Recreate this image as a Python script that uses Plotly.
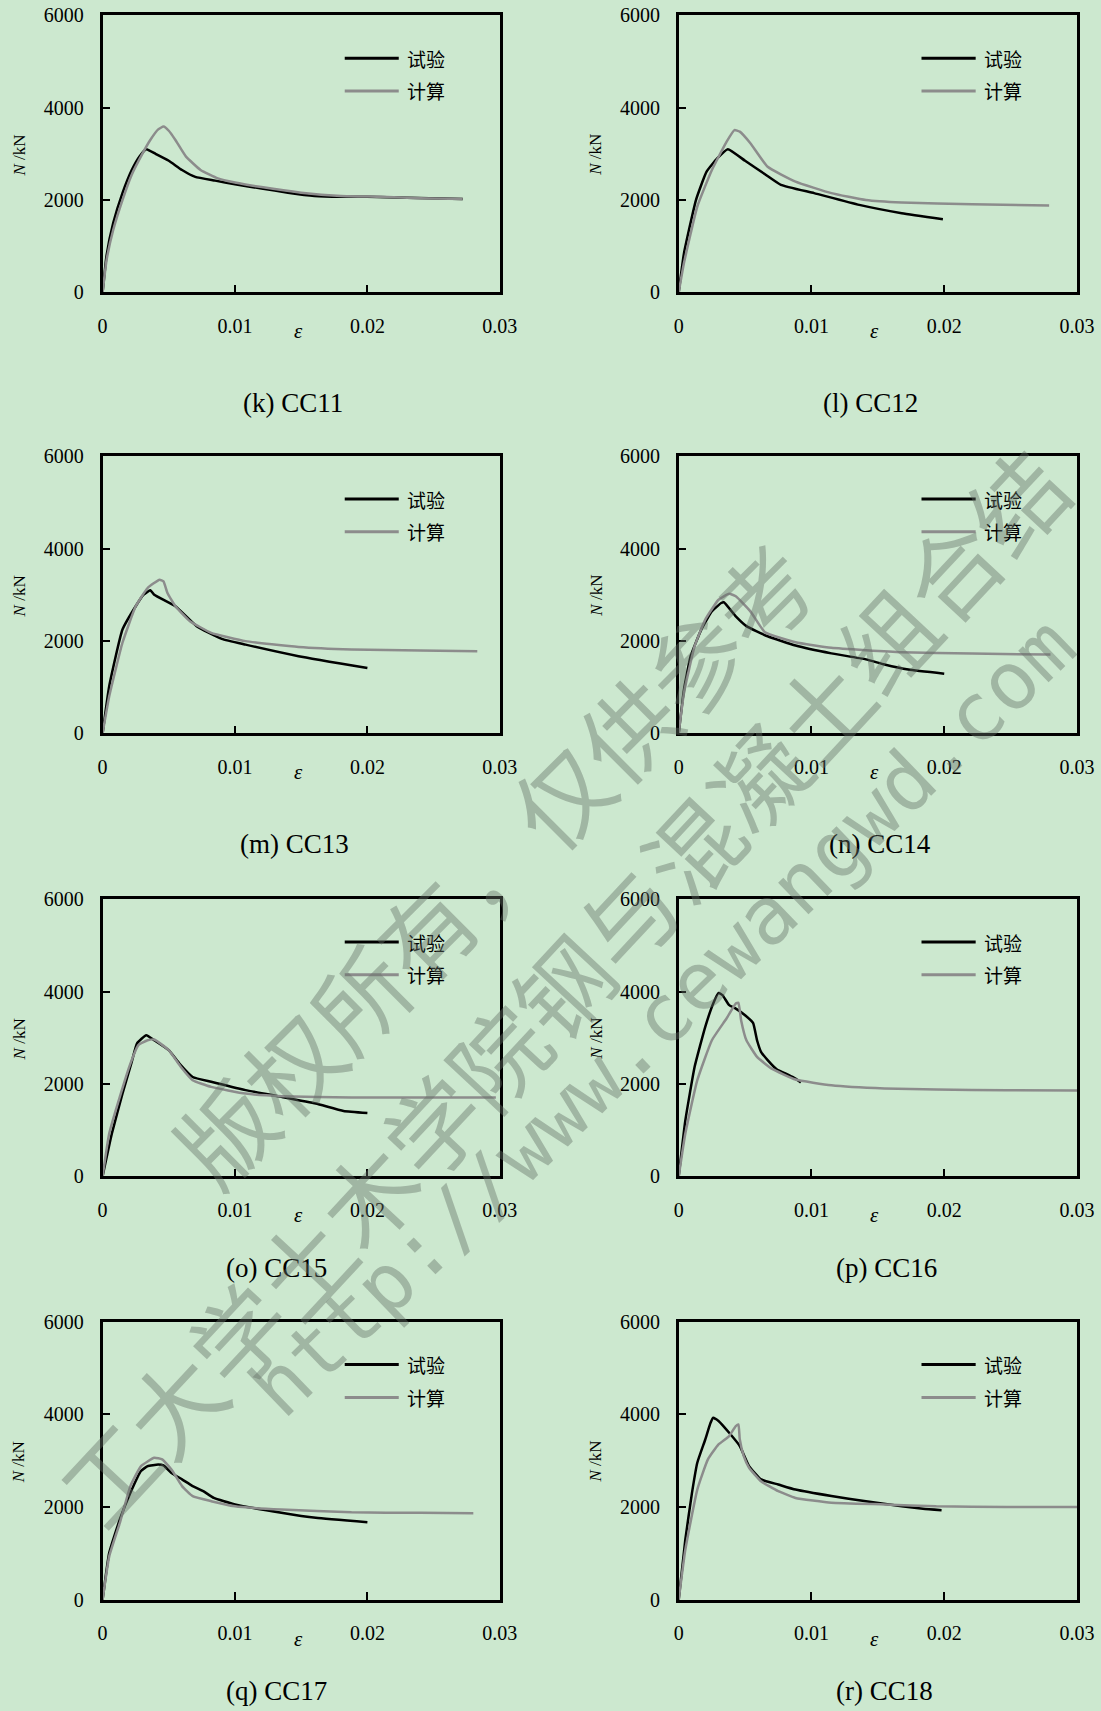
import plotly.graph_objects as go

# ---------------- data (strain ε, axial load N in kN) ----------------
panel_names = ["(k) CC11", "(l) CC12", "(m) CC13", "(n) CC14",
               "(o) CC15", "(p) CC16", "(q) CC17", "(r) CC18"]
series_names = ["试验", "计算"]
x_ticks = [0, 0.01, 0.02, 0.03]
x_tick_text = ["0", "0.01", "0.02", "0.03"]
y_ticks = [0, 2000, 4000, 6000]
y_tick_text = ["0", "2000", "4000", "6000"]
watermark_texts = ["版权所有，仅供参考", "工大学土木学院钢与混凝土组合结", "http://www.cewangwd.com"]

# CC11
cc11_test_x = [0, 0.0003, 0.0008, 0.0015, 0.0022, 0.0028, 0.0033, 0.0040, 0.0050, 0.0060, 0.0070, 0.0085,
               0.0100, 0.0120, 0.0140, 0.0160, 0.0180, 0.0200, 0.0230, 0.0272]
cc11_test_y = [0, 800, 1500, 2150, 2650, 2950, 3100, 3000, 2850, 2650, 2500, 2420,
               2340, 2250, 2160, 2090, 2070, 2070, 2050, 2020]
cc11_calc_x = [0, 0.0003, 0.0008, 0.0015, 0.0022, 0.0030, 0.0036, 0.0042, 0.0046, 0.0050, 0.0055, 0.0063,
               0.0074, 0.0087, 0.0100, 0.0120, 0.0150, 0.0180, 0.0210, 0.0240, 0.0272]
cc11_calc_y = [0, 700, 1350, 2000, 2550, 3000, 3300, 3530, 3590, 3500, 3300, 2940,
               2650, 2470, 2380, 2280, 2160, 2090, 2070, 2040, 2020]

# CC12
cc12_test_x = [0, 0.0004, 0.0013, 0.0021, 0.0029, 0.0037, 0.0050, 0.0065, 0.0077, 0.0102, 0.0136, 0.0168, 0.0199]
cc12_test_y = [0, 850, 2000, 2615, 2900, 3100, 2850, 2560, 2330, 2150, 1895, 1715, 1585]
cc12_calc_x = [0, 0.0004, 0.0014, 0.0025, 0.0036, 0.0042, 0.0046, 0.0054, 0.0067, 0.0088, 0.0115, 0.0141,
               0.0168, 0.0221, 0.0279]
cc12_calc_y = [0, 640, 1860, 2650, 3260, 3515, 3480, 3230, 2720, 2400, 2150, 2000,
               1945, 1910, 1880]

# CC13
cc13_test_x = [0, 0.0005, 0.0015, 0.0025, 0.0031, 0.0036, 0.0039, 0.0055, 0.0071, 0.0090, 0.0108, 0.0148, 0.0200]
cc13_test_y = [0, 1020, 2245, 2750, 3000, 3095, 3000, 2750, 2320, 2045, 1920, 1670, 1415]
cc13_calc_x = [0, 0.0005, 0.0015, 0.0025, 0.0034, 0.0043, 0.0046, 0.0049, 0.0055, 0.0066, 0.0082, 0.0108,
               0.0148, 0.0188, 0.0240, 0.0283]
cc13_calc_y = [0, 800, 1960, 2750, 3145, 3325, 3290, 3035, 2750, 2425, 2175, 1995,
               1870, 1815, 1790, 1778]

# CC14
cc14_test_x = [0, 0.0004, 0.0009, 0.0017, 0.0025, 0.0032, 0.0034, 0.0043, 0.0051, 0.0067, 0.0088, 0.0115,
               0.0141, 0.0155, 0.0173, 0.0200]
cc14_test_y = [0, 950, 1670, 2245, 2640, 2820, 2835, 2530, 2320, 2100, 1900, 1730,
               1600, 1490, 1380, 1290]
cc14_calc_x = [0, 0.0004, 0.0012, 0.0020, 0.0030, 0.0038, 0.0043, 0.0054, 0.0065, 0.0088, 0.0115, 0.0168,
               0.0221, 0.0280]
cc14_calc_y = [0, 880, 1885, 2460, 2890, 3020, 2965, 2640, 2185, 1970, 1850, 1755,
               1725, 1705]

# CC15
cc15_test_x = [0, 0.0007, 0.0015, 0.0022, 0.0026, 0.0033, 0.0039, 0.0050, 0.0058, 0.0068, 0.0082, 0.0108,
               0.0135, 0.0161, 0.0182, 0.0200]
cc15_test_y = [0, 925, 1790, 2475, 2875, 3055, 2945, 2730, 2440, 2150, 2045, 1865,
               1720, 1575, 1415, 1370]
cc15_calc_x = [0, 0.0005, 0.0013, 0.0021, 0.0027, 0.0034, 0.0039, 0.0050, 0.0059, 0.0068, 0.0082, 0.0108,
               0.0135, 0.0188, 0.0297]
cc15_calc_y = [0, 925, 1720, 2440, 2840, 2945, 2960, 2730, 2370, 2080, 1935, 1790,
               1735, 1705, 1705]

# CC16
cc16_test_x = [0, 0.0005, 0.0012, 0.0020, 0.0026, 0.0030, 0.0033, 0.0038, 0.0043, 0.0050, 0.0056, 0.0059,
               0.0062, 0.0067, 0.0074, 0.0083, 0.0088, 0.0092]
cc16_test_y = [0, 1210, 2370, 3235, 3740, 3970, 3920, 3705, 3630, 3485, 3320, 2945,
               2695, 2515, 2310, 2190, 2115, 2030]
cc16_calc_x = [0, 0.0005, 0.0014, 0.0025, 0.0036, 0.0043, 0.0045, 0.0047, 0.0051, 0.0059, 0.0070, 0.0088,
               0.0115, 0.0155, 0.0194, 0.0247, 0.0300]
cc16_calc_y = [0, 925, 2080, 2945, 3415, 3740, 3755, 3380, 2945, 2585, 2330, 2095,
               1970, 1900, 1877, 1863, 1856]

# CC17
cc17_test_x = [0, 0.0005, 0.0013, 0.0021, 0.0029, 0.0034, 0.0042, 0.0046, 0.0052, 0.0060, 0.0068, 0.0076,
               0.0084, 0.0100, 0.0135, 0.0161, 0.0200]
cc17_test_y = [0, 1010, 1730, 2305, 2775, 2880, 2915, 2895, 2735, 2595, 2450, 2340,
               2195, 2055, 1875, 1765, 1670]
cc17_calc_x = [0, 0.0005, 0.0013, 0.0021, 0.0029, 0.0039, 0.0045, 0.0052, 0.0060, 0.0068, 0.0082, 0.0100,
               0.0135, 0.0188, 0.0240, 0.0280]
cc17_calc_y = [0, 935, 1655, 2450, 2880, 3060, 3025, 2810, 2450, 2235, 2125, 2015,
               1945, 1885, 1873, 1866]

# CC18
cc18_test_x = [0, 0.0005, 0.0010, 0.0014, 0.0020, 0.0024, 0.0026, 0.0030, 0.0038, 0.0046, 0.0053, 0.0062,
               0.0075, 0.0088, 0.0115, 0.0141, 0.0168, 0.0184, 0.0198]
cc18_test_y = [0, 1300, 2305, 2955, 3455, 3815, 3925, 3855, 3600, 3315, 2880, 2595,
               2485, 2375, 2235, 2125, 2015, 1960, 1930]
cc18_calc_x = [0, 0.0005, 0.0014, 0.0022, 0.0030, 0.0038, 0.0043, 0.0045, 0.0046, 0.0049, 0.0053, 0.0062,
               0.0075, 0.0088, 0.0115, 0.0155, 0.0194, 0.0247, 0.0300]
cc18_calc_y = [0, 1080, 2375, 3025, 3350, 3530, 3745, 3780, 3460, 3095, 2845, 2555,
               2340, 2195, 2090, 2055, 2015, 2000, 2000]

test_x = [cc11_test_x, cc12_test_x, cc13_test_x, cc14_test_x, cc15_test_x, cc16_test_x, cc17_test_x, cc18_test_x]
test_y = [cc11_test_y, cc12_test_y, cc13_test_y, cc14_test_y, cc15_test_y, cc16_test_y, cc17_test_y, cc18_test_y]
calc_x = [cc11_calc_x, cc12_calc_x, cc13_calc_x, cc14_calc_x, cc15_calc_x, cc16_calc_x, cc17_calc_x, cc18_calc_x]
calc_y = [cc11_calc_y, cc12_calc_y, cc13_calc_y, cc14_calc_y, cc15_calc_y, cc16_calc_y, cc17_calc_y, cc18_calc_y]

# ---------------- layout constants ----------------
W, H = 1101, 1711
BG = "#CCE8CF"
BLACK = "#000000"
GRAY = "#8C8C8C"
WM = "rgba(100,112,102,0.42)"
SERIF = "Liberation Serif"
CJK = "Noto Sans CJK SC"

col_px = [(102.6, 499.8), (678.7, 1077.0)]
row_px = [(15.3, 292.4), (456.1, 733.3), (899.1, 1176.3), (1321.5, 1599.7)]
sub_x_px = [293, 870.5, 294.5, 879.5, 276, 886, 276, 884]
sub_y_px = [403, 844, 1268, 1691]
ylab_x_px = [19.3, 595.6]

fig = go.Figure()
annotations = []
shapes = []

for i in range(8):
    r, c = divmod(i, 2)
    k = "" if i == 0 else str(i + 1)
    xa, ya = "x" + k, "y" + k
    x0, x1 = col_px[c]
    t, b = row_px[r]
    xdom = [x0 / W, x1 / W]
    ydom = [1 - b / H, 1 - t / H]
    axis_common = dict(showline=True, linecolor=BLACK, linewidth=2.5, mirror=True,
                       ticks="inside", ticklen=8, tickwidth=2, tickcolor=BLACK,
                       showgrid=False, zeroline=False, automargin=False,
                       tickfont=dict(family=SERIF, size=20, color=BLACK))
    fig.update_layout(**{
        "xaxis" + k: dict(domain=xdom, range=[0, 0.03], anchor=ya,
                          tickvals=x_ticks, ticktext=x_tick_text,
                          ticklabelstandoff=14, **axis_common),
        "yaxis" + k: dict(domain=ydom, range=[0, 6000], anchor=xa,
                          tickvals=y_ticks, ticktext=y_tick_text,
                          ticklabelstandoff=12, **axis_common),
    })
    fig.add_trace(go.Scatter(x=test_x[i], y=test_y[i], mode="lines", name=series_names[0],
                             line=dict(color=BLACK, width=2.5, shape="spline", smoothing=0.4),
                             showlegend=False, xaxis=xa, yaxis=ya))
    fig.add_trace(go.Scatter(x=calc_x[i], y=calc_y[i], mode="lines", name=series_names[1],
                             line=dict(color=GRAY, width=2.5, shape="spline", smoothing=0.4),
                             showlegend=False, xaxis=xa, yaxis=ya))
    # legend samples
    for j, (yy, colr) in enumerate([(0.845, BLACK), (0.727, GRAY)]):
        shapes.append(dict(type="line", xref=xa + " domain", yref=ya + " domain",
                           x0=0.6096, x1=0.7456, y0=yy, y1=yy,
                           line=dict(color=colr, width=3)))
        annotations.append(dict(xref=xa + " domain", yref=ya + " domain", x=0.762, y=yy,
                                xanchor="left", yanchor="middle", showarrow=False,
                                text=series_names[j], font=dict(family=CJK, size=19, color=BLACK)))
    # x label ε
    annotations.append(dict(xref=xa + " domain", yref=ya + " domain", x=0.492, y=-0.141,
                            xanchor="center", yanchor="middle", showarrow=False,
                            text="<i>ε</i>", font=dict(family=SERIF, size=21, color=BLACK)))
    # y label
    annotations.append(dict(xref="paper", yref=ya + " domain", x=ylab_x_px[c] / W, y=0.495,
                            xanchor="center", yanchor="middle", showarrow=False, textangle=-90,
                            text="<i>N</i> /kN", font=dict(family=SERIF, size=17, color=BLACK)))
    # subplot caption
    annotations.append(dict(xref="paper", yref="paper", x=sub_x_px[i] / W, y=1 - sub_y_px[r] / H,
                            xanchor="center", yanchor="middle", showarrow=False,
                            text=panel_names[i], font=dict(family=SERIF, size=27, color=BLACK)))

# diagonal watermark text over the figure
wm_specs = [  # (center x px, center y px, angle, font family, size)
    (491, 862, -45, CJK, 95),
    (560, 985, -47, CJK, 95),
    (663, 1017, -44, "DejaVu Sans Mono", 80),
]
for txt, (cx, cy, ang, fam, sz) in zip(watermark_texts, wm_specs):
    annotations.append(dict(xref="paper", yref="paper", x=cx / W, y=1 - cy / H,
                            xanchor="center", yanchor="middle", showarrow=False,
                            textangle=ang, text=txt, font=dict(family=fam, size=sz, color=WM)))

fig.update_layout(width=W, height=H, margin=dict(l=0, r=0, t=0, b=0, pad=0, autoexpand=False),
                  paper_bgcolor=BG, plot_bgcolor=BG, showlegend=False,
                  annotations=annotations, shapes=shapes)

fig.write_html("out.html")
